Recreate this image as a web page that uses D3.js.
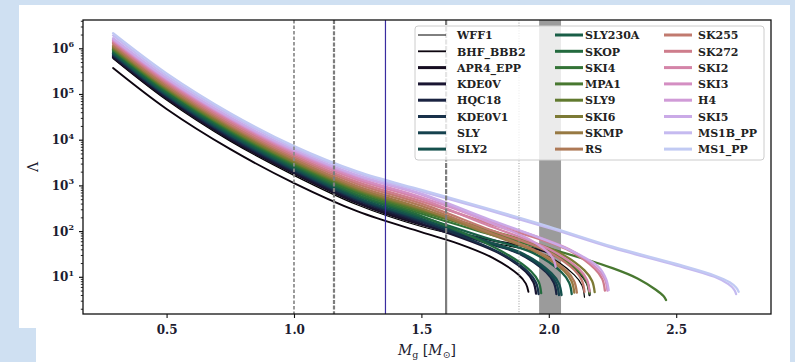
<!DOCTYPE html>
<html><head><meta charset="utf-8">
<script src="https://cdn.jsdelivr.net/npm/d3@7"></script>
<style>body{margin:0;background:#cfe0f2;} svg{display:block;}</style>
</head><body>
<svg id="c" width="795" height="362"></svg>
<script>
// ---------------- DATA ----------------
const seriesNames = ["WFF1","BHF_BBB2","APR4_EPP","KDE0V","HQC18","KDE0V1","SLY","SLY2",
  "SLY230A","SKOP","SKI4","MPA1","SLY9","SKI6","SKMP","RS",
  "SK255","SK272","SKI2","SKI3","H4","SKI5","MS1B_PP","MS1_PP"];
// each series: [gravitational mass M_g, tidal deformability Lambda]
const WFF1     = [[0.29,6.0e5],[0.5,7.4e4],[0.75,9300],[1.0,1660],[1.25,372],[1.5,126],[1.75,60],[1.99,29],[2.10,11.0],[2.13,6.5],[2.14,3.6]];
const BHF_BBB2 = [[0.29,3.7e5],[0.5,4.7e4],[0.75,6200],[1.0,1120],[1.25,269],[1.5,95],[1.65,52],[1.78,26],[1.88,11.2],[1.91,7.1],[1.92,4.7]];
const APR4_EPP = [[0.29,6.3e5],[0.5,7.9e4],[0.75,1.0e4],[1.0,1820],[1.25,407],[1.5,138],[1.75,68],[2.01,32],[2.12,12.0],[2.15,7.1],[2.16,4.0]];
const KDE0V    = [[0.29,6.6e5],[0.5,8.3e4],[0.75,1.05e4],[1.0,1905],[1.25,427],[1.5,145],[1.80,34],[1.91,12.9],[1.94,7.6],[1.95,4.3]];
const HQC18    = [[0.29,7.1e5],[0.5,8.9e4],[0.75,1.12e4],[1.0,2040],[1.25,468],[1.5,158],[1.75,56],[1.88,33],[1.99,12.6],[2.02,7.4],[2.03,4.2]];
const KDE0V1   = [[0.29,7.2e5],[0.5,9.1e4],[0.75,1.17e4],[1.0,2140],[1.25,490],[1.5,166],[1.81,33],[1.92,12.6],[1.95,7.4],[1.96,4.2]];
const SLY      = [[0.29,7.6e5],[0.5,9.5e4],[0.75,1.23e4],[1.0,2240],[1.25,513],[1.5,178],[1.75,59],[1.89,32],[2.00,12.0],[2.03,7.1],[2.04,4.0]];
const SLY2     = [[0.29,7.8e5],[0.5,9.8e4],[0.75,1.29e4],[1.0,2340],[1.25,537],[1.5,186],[1.75,62],[1.90,32],[2.01,12.0],[2.04,7.1],[2.05,4.0]];
const SLY230A  = [[0.29,8.3e5],[0.5,1.05e5],[0.75,1.38e4],[1.0,2510],[1.25,589],[1.5,204],[1.75,72],[1.94,33],[2.05,12.6],[2.08,7.4],[2.09,4.2]];
const SKOP     = [[0.29,8.9e5],[0.5,1.12e5],[0.75,1.48e4],[1.0,2690],[1.25,617],[1.5,214],[1.82,35],[1.93,13.2],[1.96,7.8],[1.97,4.4]];
const SKI4     = [[0.29,9.3e5],[0.5,1.20e5],[0.75,1.55e4],[1.0,2880],[1.25,676],[1.5,240],[1.75,91],[2.01,34],[2.12,12.9],[2.15,7.6],[2.16,4.3]];
const MPA1     = [[0.29,9.5e5],[0.5,1.23e5],[0.75,1.62e4],[1.0,3020],[1.25,741],[1.5,263],[1.75,105],[2.0,42],[2.25,15.5],[2.35,9.1],[2.42,5.2],[2.45,3.8],[2.46,3.1]];
const SLY9     = [[0.29,1.0e6],[0.5,1.29e5],[0.75,1.70e4],[1.0,3160],[1.25,776],[1.5,282],[1.75,102],[2.01,35],[2.12,13.5],[2.15,7.9],[2.16,4.5]];
const SKI6     = [[0.29,1.05e6],[0.5,1.35e5],[0.75,1.78e4],[1.0,3310],[1.25,832],[1.5,302],[1.75,112],[2.03,36],[2.14,13.8],[2.17,8.1],[2.18,4.6]];
const SKMP     = [[0.29,1.10e6],[0.5,1.41e5],[0.75,1.91e4],[1.0,3550],[1.25,871],[1.5,316],[1.75,93],[1.95,35],[2.06,13.5],[2.09,7.9],[2.10,4.5]];
const RS       = [[0.29,1.17e6],[0.5,1.51e5],[0.75,2.04e4],[1.0,3800],[1.25,955],[1.5,355],[1.75,102],[1.96,35],[2.07,13.5],[2.10,7.9],[2.11,4.5]];
const SK255    = [[0.29,1.26e6],[0.5,1.66e5],[0.75,2.19e4],[1.0,4170],[1.25,1070],[1.5,398],[1.75,117],[1.99,37],[2.10,14.1],[2.13,8.3],[2.14,4.7]];
const SK272    = [[0.29,1.35e6],[0.5,1.78e5],[0.75,2.40e4],[1.0,4570],[1.25,1175],[1.5,447],[1.75,155],[2.07,40],[2.18,15.1],[2.21,8.9],[2.22,5.0]];
const SKI2     = [[0.29,1.45e6],[0.5,1.91e5],[0.75,2.63e4],[1.0,5010],[1.25,1318],[1.5,501],[1.75,141],[2.01,38],[2.12,14.5],[2.15,8.5],[2.16,4.8]];
const SKI3     = [[0.29,1.51e6],[0.5,2.04e5],[0.75,2.82e4],[1.0,5370],[1.25,1445],[1.5,550],[1.75,178],[2.08,40],[2.19,15.1],[2.22,8.9],[2.23,5.0]];
const H4       = [[0.29,1.58e6],[0.5,2.14e5],[0.75,2.95e4],[1.0,5750],[1.25,1585],[1.5,631],[1.75,170],[1.93,63],[2.00,33],[2.02,23],[2.027,16.6]];
const SKI5     = [[0.29,1.66e6],[0.5,2.24e5],[0.75,3.09e4],[1.0,6030],[1.25,1660],[1.5,661],[1.75,195],[2.08,39],[2.195,16.6],[2.225,8.9],[2.235,5.1]];
const MS1B_PP  = [[0.29,1.91e6],[0.5,2.51e5],[0.75,3.47e4],[1.0,6610],[1.25,1862],[1.5,741],[1.75,302],[2.0,117],[2.25,42.7],[2.5,17.8],[2.65,10.0],[2.705,6.9],[2.728,5.2],[2.735,4.2]];
const MS1_PP   = [[0.29,2.14e6],[0.5,2.82e5],[0.75,3.80e4],[1.0,7240],[1.25,1995],[1.5,794],[1.75,324],[2.0,126],[2.25,45.7],[2.5,19.1],[2.65,10.7],[2.71,7.6],[2.735,5.8],[2.745,4.7]];
const seriesData = [WFF1,BHF_BBB2,APR4_EPP,KDE0V,HQC18,KDE0V1,SLY,SLY2,SLY230A,SKOP,SKI4,MPA1,
  SLY9,SKI6,SKMP,RS,SK255,SK272,SKI2,SKI3,H4,SKI5,MS1B_PP,MS1_PP];

const massTicks = [0.5, 1.0, 1.5, 2.0, 2.5];
const lambdaTicks = [1e1, 1e2, 1e3, 1e4, 1e5, 1e6];
const lambdaTickExp = ["1","2","3","4","5","6"];
const markerMasses = [1.0, 1.157, 1.359, 1.597, 1.883];
const bandMasses = [1.962, 2.048];
const splitLambda = 60; // the 1.6 marker switches from dashed to solid below this

// ---------------- DRAW ----------------
const svg = d3.select('#c');
const P = {l:83, t:20, r:771, b:314};
const x = d3.scaleLinear().domain([0.172, 2.872]).range([P.l, P.r]);
const y = d3.scaleLog().domain([1.535, 4.16e6]).range([P.b, P.t]);
const serif = '"DejaVu Serif", "Liberation Serif", serif';
const ink = '#1c1c30';

// backgrounds
svg.append('rect').attr('width',795).attr('height',362).attr('fill','#cfe0f2');
svg.append('rect').attr('x',19).attr('y',5).attr('width',771).attr('height',323).attr('fill','#fff');
svg.append('rect').attr('x',36).attr('y',328).attr('width',754).attr('height',34).attr('fill','#fff');

svg.append('clipPath').attr('id','pc').append('rect')
  .attr('x',P.l).attr('y',P.t).attr('width',P.r-P.l).attr('height',P.b-P.t);
const plot = svg.append('g').attr('clip-path','url(#pc)');

// band
plot.append('rect').attr('x',x(bandMasses[0])).attr('y',P.t)
  .attr('width',x(bandMasses[1])-x(bandMasses[0])).attr('height',P.b-P.t).attr('fill','#9b9b9b');

const colorOf = i => d3.interpolateCubehelixDefault(i/23*0.8);
const widthOf = i => i===0 ? 1.2 : (i===1 ? 1.9 : 2.3);
const line = d3.line().x(d=>x(d[0])).y(d=>y(d[1])).curve(d3.curveCatmullRom.alpha(0.5));
plot.selectAll('path.eos').data(seriesData).join('path').attr('class','eos')
  .attr('d', line).attr('fill','none')
  .attr('stroke',(d,i)=>colorOf(i)).attr('stroke-width',(d,i)=>widthOf(i))
  .attr('stroke-linejoin','round').attr('stroke-linecap','round');

// vertical markers
const mk = plot.append('g');
mk.append('line').attr('x1',x(markerMasses[0])).attr('x2',x(markerMasses[0])).attr('y1',P.t).attr('y2',P.b)
  .attr('stroke','#8a8a8a').attr('stroke-width',1.7).attr('stroke-dasharray','3.5,2');
mk.append('line').attr('x1',x(markerMasses[1])).attr('x2',x(markerMasses[1])).attr('y1',P.t).attr('y2',P.b)
  .attr('stroke','#7d7d7d').attr('stroke-width',2.2).attr('stroke-dasharray','4,1.6');
mk.append('line').attr('x1',x(markerMasses[2])).attr('x2',x(markerMasses[2])).attr('y1',P.t).attr('y2',P.b)
  .attr('stroke','#3a2ca0').attr('stroke-width',1.2);
mk.append('line').attr('x1',x(markerMasses[3])).attr('x2',x(markerMasses[3])).attr('y1',P.t).attr('y2',y(splitLambda))
  .attr('stroke','#7d7d7d').attr('stroke-width',2.2).attr('stroke-dasharray','5,1.5');
mk.append('line').attr('x1',x(markerMasses[3])).attr('x2',x(markerMasses[3])).attr('y1',y(splitLambda)).attr('y2',P.b)
  .attr('stroke','#7d7d7d').attr('stroke-width',2.2);
mk.append('line').attr('x1',x(markerMasses[4])).attr('x2',x(markerMasses[4])).attr('y1',P.t).attr('y2',P.b)
  .attr('stroke','#9a9a9a').attr('stroke-width',1).attr('stroke-dasharray','1,1.6');

// legend
const lg = svg.append('g');
lg.append('rect').attr('x',415).attr('y',26).attr('width',349).attr('height',134).attr('rx',3)
  .attr('fill','#fff').attr('fill-opacity',0.8).attr('stroke','#cccccc').attr('stroke-width',1);
const colLineX = [418, 555, 664], colTextX = [457, 585, 698];
const items = lg.selectAll('g.it').data(seriesNames).join('g').attr('class','it')
  .attr('transform',(d,i)=>`translate(0,${35 + (i%8)*16.3})`);
items.append('line').attr('x1',(d,i)=>colLineX[Math.floor(i/8)]).attr('x2',(d,i)=>colLineX[Math.floor(i/8)]+28)
  .attr('y1',0).attr('y2',0).attr('stroke',(d,i)=>colorOf(i)).attr('stroke-width',(d,i)=>i===0?1:(i===1?1.8:3));
items.append('text').attr('x',(d,i)=>colTextX[Math.floor(i/8)]).attr('y',4.2)
  .attr('font-family',serif).attr('font-weight','bold').attr('font-size',11).attr('fill','#222')
  .text(d=>d);

// axes
const xAx = svg.append('g').attr('transform',`translate(0,${P.b})`)
  .call(d3.axisBottom(x).tickValues(massTicks).tickSize(4).tickFormat(d3.format('.1f')));
xAx.select('.domain').remove();
xAx.selectAll('line').attr('stroke','#111').attr('stroke-width',1.1);
xAx.selectAll('text').attr('font-family',serif).attr('font-weight','bold').attr('font-size',12)
  .attr('fill',ink).attr('dy','1.05em');

const minorVals = [];
for (let e=0;e<=6;e++) for (let k=2;k<=9;k++){ const v=k*Math.pow(10,e); if(v>=1.535 && v<=4.16e6) minorVals.push(v); }
const yMin = svg.append('g').attr('transform',`translate(${P.l},0)`)
  .call(d3.axisLeft(y).tickValues(minorVals).tickSize(2.2).tickFormat(''));
yMin.select('.domain').remove();
yMin.selectAll('line').attr('stroke','#111').attr('stroke-width',0.9);
const yAx = svg.append('g').attr('transform',`translate(${P.l},0)`)
  .call(d3.axisLeft(y).tickValues(lambdaTicks).tickSize(4).tickFormat(''));
yAx.select('.domain').remove();
yAx.selectAll('line').attr('stroke','#111').attr('stroke-width',1.2);
const yl = svg.append('g').selectAll('text').data(lambdaTicks).join('text')
  .attr('x',P.l-9).attr('y',d=>y(d)+4.5).attr('text-anchor','end')
  .attr('font-family',serif).attr('font-weight','bold').attr('font-size',12).attr('fill',ink);
yl.append('tspan').text('10');
yl.append('tspan').attr('font-size',8).attr('dy',-5.5).text((d,i)=>lambdaTickExp[i]);

// spines
svg.append('rect').attr('x',P.l).attr('y',P.t).attr('width',P.r-P.l).attr('height',P.b-P.t)
  .attr('fill','none').attr('stroke','#111').attr('stroke-width',1.3);

// axis labels
const xl = svg.append('text').attr('x',(P.l+P.r)/2).attr('y',355).attr('text-anchor','middle')
  .attr('font-family',serif).attr('font-size',14).attr('fill',ink);
xl.append('tspan').attr('font-style','italic').text('M');
xl.append('tspan').attr('font-size',9.5).attr('dy',3).text('g');
xl.append('tspan').attr('dy',-3).text(' [');
xl.append('tspan').attr('font-style','italic').text('M');
xl.append('tspan').attr('font-size',9.5).attr('dy',3).text('⊙');
xl.append('tspan').attr('dy',-3).text(']');
svg.append('text').attr('transform',`translate(38,167) rotate(-90)`).attr('text-anchor','middle')
  .attr('font-family',serif).attr('font-size',14).attr('fill',ink).text('Λ');
</script>
</body></html>
